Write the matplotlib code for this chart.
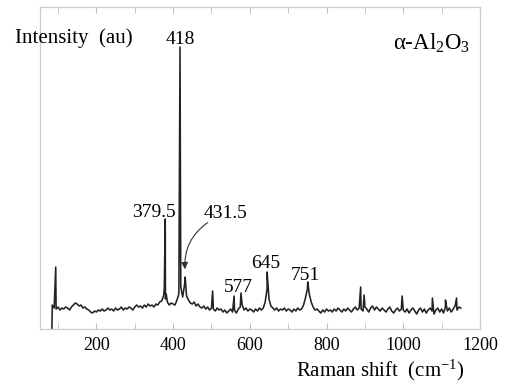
import numpy as np
import matplotlib
matplotlib.use("Agg")
import matplotlib.pyplot as plt

plt.rcParams['font.family'] = ['Liberation Serif', 'DejaVu Serif']
plt.rcParams['mathtext.fontset'] = 'custom'
plt.rcParams['mathtext.rm'] = 'Liberation Serif'
plt.rcParams['mathtext.it'] = 'Liberation Serif:italic'

# baseline of the spectrum, read every 5 cm-1 from 85 to 1150
base_shift = np.arange(85, 1151, 5)
base_int = [
    24, 21, 20, 22, 19, 21, 20, 22, 21,
    19, 22, 24, 26, 25, 23, 24, 21, 22, 20,
    19, 17, 16, 18, 17, 19, 18, 20, 18, 19,
    21, 19, 20, 18, 21, 19, 20, 22, 19, 21,
    20, 22, 21, 19, 22, 24, 22, 23, 21, 24,
    22, 25, 23, 24, 22, 25, 24, 27, 28, 33,
    30, 27, 24, 26, 25, 24, 29, 35, 42, 32,
    45, 33, 29, 26, 25, 27, 23, 25, 22, 21,
    23, 20, 22, 19, 21, 20, 18, 21, 19, 20,
    17, 19, 16, 18, 20, 17, 19, 16, 20, 22,
    24, 19, 21, 18, 20, 19, 17, 20, 18, 21,
    19, 21, 27, 40, 30, 23, 21, 19, 21, 18,
    20, 19, 21, 18, 20, 19, 17, 20, 18, 21,
    19, 20, 24, 31, 40, 35, 27, 22, 19, 20,
    18, 16, 19, 17, 20, 18, 19, 17, 20, 18,
    21, 19, 17, 20, 18, 21, 19, 17, 20, 22,
    19, 21, 20, 18, 22, 20, 17, 21, 23, 19,
    22, 20, 18, 21, 19, 17, 20, 22, 18, 16,
    19, 21, 18, 20, 19, 17, 20, 16, 19, 21,
    18, 15, 19, 21, 17, 20, 16, 19, 21, 18,
    15, 19, 21, 17, 20, 16, 22, 18, 21, 17,
    20, 23, 19, 22, 21,
]

# sharp lines and spikes
peak_shift = [84, 94, 377, 379.5, 382, 418, 431.5, 503, 559, 577,
              645, 751, 889, 898, 997, 1076, 1110, 1139]
peak_int = [0, 62, 40, 110, 35, 282, 52, 38, 33, 36,
            57, 47, 42, 34, 33, 31, 29, 31]

# labelled peaks: text, x, y of label baseline
label_text = ['418', '379.5', '431.5', '577', '645', '751']
label_x = [418, 351, 537, 571, 641, 745]
label_y = [285, 112, 111, 37, 61, 49]

shift = np.concatenate([base_shift, peak_shift])
inten = np.concatenate([base_int, peak_int])
order = np.argsort(shift, kind='stable')
shift, inten = shift[order], inten[order]

fig = plt.figure(figsize=(5.07, 3.88), dpi=100)
ax = fig.add_axes([0.0789, 0.152, 0.8678, 0.830])
ax.plot(shift, inten, color='#222222', lw=1.15)

ax.set_xlim(53, 1200)
ax.set_ylim(0, 322)
ax.set_xticks(np.arange(100, 1201, 100), minor=True)
ax.set_xticks(np.arange(200, 1201, 200))
ax.set_yticks([])
ax.tick_params(axis='x', which='both', direction='in', top=True,
               length=4, color='#bbbbbb', labelsize=13, pad=6)
for s in ax.spines.values():
    s.set_color('#cccccc')
    s.set_linewidth(0.9)

for t, x, y in zip(label_text, label_x, label_y):
    ax.text(x, y, t, ha='center', va='baseline', fontsize=14)

ax.annotate('', xy=(431.5, 57), xytext=(496, 108),
            arrowprops=dict(arrowstyle='-|>,head_length=0.4,head_width=0.2',
                            color='#333333', lw=0.8,
                            connectionstyle='arc3,rad=0.3'))

fig.text(15 / 507, 1 - 38 / 388, 'Intensity  (au)', fontsize=15,
         ha='left', va='center')
fig.text(470 / 507, 1 - 43 / 388, '\u03b1-Al$_2$O$_3$', fontsize=16.5,
         ha='right', va='center')
fig.text(465 / 507, 1 - 370 / 388, 'Raman shift  (cm$^{-1}$)', fontsize=15,
         ha='right', va='center')

fig.savefig('out.png', dpi=100)
